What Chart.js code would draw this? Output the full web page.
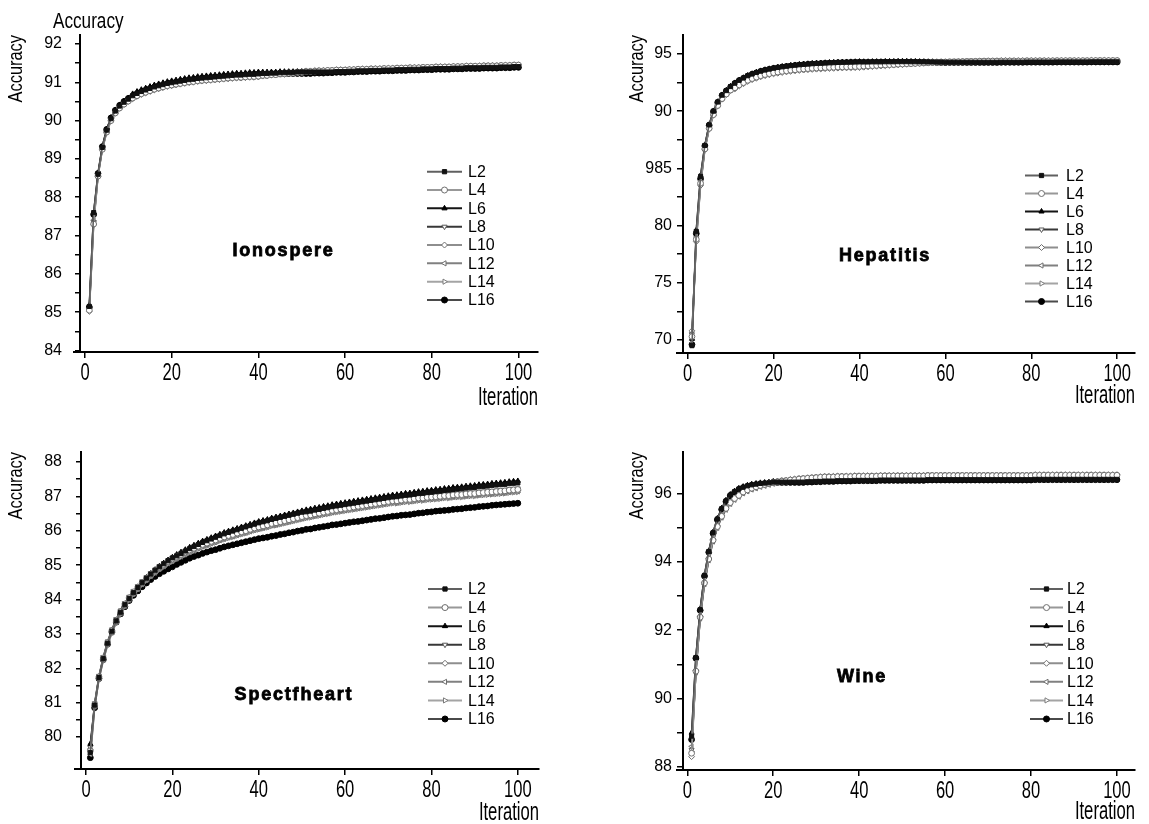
<!DOCTYPE html>
<html><head><meta charset="utf-8">
<script src="https://cdn.jsdelivr.net/npm/chart.js@4.4.1/dist/chart.umd.min.js"></script>
<style>
html,body{margin:0;padding:0;background:#fff;}
body{width:1149px;height:824px;position:relative;overflow:hidden;}
canvas{position:absolute;}
</style></head><body>
<canvas id="c1" width="575" height="412" style="left:0;top:0;width:575px;height:412px"></canvas>
<canvas id="c2" width="574" height="412" style="left:575px;top:0;width:574px;height:412px"></canvas>
<canvas id="c3" width="575" height="412" style="left:0;top:412px;width:575px;height:412px"></canvas>
<canvas id="c4" width="574" height="412" style="left:575px;top:412px;width:574px;height:412px"></canvas>
<script>
const iterations = [1,2,3,4,5,6,7,8,9,10,11,12,13,14,15,16,17,18,19,20,21,22,23,24,25,26,27,28,29,30,31,32,33,34,35,36,37,38,39,40,41,42,43,44,45,46,47,48,49,50,51,52,53,54,55,56,57,58,59,60,61,62,63,64,65,66,67,68,69,70,71,72,73,74,75,76,77,78,79,80,81,82,83,84,85,86,87,88,89,90,91,92,93,94,95,96,97,98,99,100];
const seriesNames = ['L2','L4','L6','L8','L10','L12','L14','L16'];
const panelNames = ['Ionospere','Hepatitis','Spectfheart','Wine'];
const xTicks = [0,20,40,60,80,100];
const xLabels = ['0','20','40','60','80','100'];
const ionYTicks = [84,84.5,85,85.5,86,86.5,87,87.5,88,88.5,89,89.5,90,90.5,91,91.5,92];
const ionYLabels = ['84','','85','','86','','87','','88','','89','','90','','91','','92'];
const hepYTicks = [70,72.5,75,77.5,80,82.5,85,87.5,90,92.5,95];
const hepYLabels = ['70','','75','','80','','985','','90','','95'];
const speYTicks = [80,80.5,81,81.5,82,82.5,83,83.5,84,84.5,85,85.5,86,86.5,87,87.5,88];
const speYLabels = ['80','','81','','82','','83','','84','','85','','86','','87','','88'];
const wineYTicks = [88,89,90,91,92,93,94,95,96];
const wineYLabels = ['88','','90','','92','','94','','96'];

// ---------- Ionospere ----------
const ionL2 = [85.15,87.60,88.60,89.30,89.75,90.05,90.25,90.38,90.48,90.56,
90.65,90.71,90.76,90.80,90.84,90.88,90.91,90.94,90.97,90.99,
91.01,91.03,91.05,91.07,91.08,91.10,91.11,91.12,91.13,91.14,
91.15,91.16,91.17,91.18,91.19,91.19,91.20,91.21,91.21,91.22,
91.23,91.23,91.24,91.24,91.25,91.25,91.26,91.26,91.27,91.27,
91.27,91.27,91.27,91.27,91.27,91.27,91.27,91.28,91.28,91.28,
91.29,91.29,91.30,91.30,91.30,91.31,91.31,91.31,91.32,91.32,
91.32,91.33,91.33,91.33,91.34,91.34,91.34,91.35,91.35,91.35,
91.36,91.36,91.36,91.36,91.37,91.37,91.37,91.38,91.38,91.38,
91.38,91.39,91.39,91.39,91.39,91.40,91.40,91.40,91.41,91.41];
const ionL4 = [85.05,87.30,88.55,89.25,89.70,90.00,90.20,90.33,90.43,90.51,
90.59,90.65,90.70,90.74,90.78,90.82,90.85,90.88,90.91,90.93,
90.95,90.97,90.99,91.01,91.02,91.04,91.05,91.06,91.07,91.08,
91.09,91.10,91.11,91.12,91.13,91.13,91.14,91.15,91.15,91.16,
91.18,91.18,91.20,91.20,91.22,91.22,91.24,91.24,91.26,91.26,
91.28,91.28,91.29,91.30,91.30,91.31,91.31,91.32,91.32,91.32,
91.33,91.33,91.34,91.34,91.34,91.35,91.35,91.35,91.36,91.36,
91.36,91.37,91.37,91.37,91.38,91.38,91.38,91.39,91.39,91.39,
91.40,91.40,91.40,91.40,91.41,91.41,91.41,91.42,91.42,91.42,
91.42,91.43,91.43,91.43,91.43,91.44,91.44,91.44,91.45,91.45];
const ionL6 = [85.18,87.60,88.63,89.33,89.78,90.08,90.28,90.41,90.51,90.59,
90.70,90.76,90.81,90.85,90.89,90.93,90.96,90.99,91.02,91.04,
91.06,91.08,91.10,91.12,91.13,91.15,91.16,91.17,91.18,91.19,
91.20,91.21,91.22,91.23,91.24,91.24,91.25,91.26,91.26,91.27,
91.27,91.27,91.27,91.27,91.28,91.28,91.28,91.28,91.28,91.28,
91.27,91.27,91.28,91.28,91.28,91.29,91.29,91.30,91.30,91.30,
91.31,91.31,91.32,91.32,91.32,91.33,91.33,91.33,91.34,91.34,
91.34,91.35,91.35,91.35,91.36,91.36,91.36,91.37,91.37,91.37,
91.38,91.38,91.38,91.38,91.39,91.39,91.39,91.40,91.40,91.40,
91.40,91.41,91.41,91.41,91.41,91.42,91.42,91.42,91.43,91.43];
const ionL8 = [85.08,87.35,88.57,89.27,89.72,90.02,90.22,90.35,90.45,90.53,
90.60,90.66,90.71,90.75,90.79,90.83,90.86,90.89,90.92,90.94,
90.96,90.98,91.00,91.02,91.03,91.05,91.06,91.07,91.08,91.09,
91.10,91.11,91.12,91.13,91.14,91.14,91.15,91.16,91.16,91.17,
91.18,91.18,91.20,91.20,91.22,91.22,91.24,91.24,91.26,91.26,
91.28,91.28,91.29,91.29,91.29,91.30,91.30,91.31,91.31,91.31,
91.32,91.32,91.33,91.33,91.33,91.34,91.34,91.34,91.35,91.35,
91.35,91.36,91.36,91.36,91.37,91.37,91.37,91.38,91.38,91.38,
91.39,91.39,91.39,91.39,91.40,91.40,91.40,91.41,91.41,91.41,
91.41,91.42,91.42,91.42,91.42,91.43,91.43,91.43,91.44,91.44];
const ionL10 = [85.02,87.28,88.54,89.24,89.69,89.99,90.19,90.32,90.42,90.50,
90.57,90.63,90.68,90.72,90.76,90.80,90.83,90.86,90.89,90.91,
90.93,90.95,90.97,90.99,91.00,91.02,91.03,91.04,91.05,91.06,
91.07,91.08,91.09,91.10,91.11,91.11,91.12,91.13,91.13,91.14,
91.16,91.17,91.19,91.20,91.22,91.23,91.25,91.26,91.28,91.28,
91.30,91.30,91.31,91.31,91.31,91.32,91.32,91.33,91.33,91.33,
91.34,91.34,91.35,91.35,91.35,91.36,91.36,91.36,91.37,91.37,
91.37,91.38,91.38,91.38,91.39,91.39,91.39,91.40,91.40,91.40,
91.41,91.41,91.41,91.41,91.42,91.42,91.42,91.43,91.43,91.43,
91.43,91.44,91.44,91.44,91.44,91.45,91.45,91.45,91.46,91.46];
const ionL12 = [85.07,87.40,88.58,89.28,89.73,90.03,90.23,90.36,90.46,90.54,
90.60,90.66,90.71,90.75,90.79,90.83,90.86,90.89,90.92,90.94,
90.96,90.98,91.00,91.02,91.03,91.05,91.06,91.07,91.08,91.09,
91.10,91.11,91.12,91.13,91.14,91.14,91.15,91.16,91.16,91.17,
91.18,91.19,91.20,91.20,91.21,91.22,91.23,91.23,91.24,91.25,
91.27,91.27,91.28,91.28,91.28,91.29,91.29,91.30,91.30,91.30,
91.31,91.31,91.32,91.32,91.32,91.33,91.33,91.33,91.34,91.34,
91.34,91.35,91.35,91.35,91.36,91.36,91.36,91.37,91.37,91.37,
91.38,91.38,91.38,91.38,91.39,91.39,91.39,91.40,91.40,91.40,
91.40,91.41,91.41,91.41,91.41,91.42,91.42,91.42,91.43,91.43];
const ionL14 = [85.10,87.38,88.56,89.26,89.71,90.01,90.21,90.34,90.44,90.52,
90.58,90.64,90.69,90.73,90.77,90.81,90.84,90.87,90.90,90.92,
90.94,90.96,90.98,91.00,91.01,91.03,91.04,91.05,91.06,91.07,
91.08,91.09,91.10,91.11,91.12,91.12,91.13,91.14,91.14,91.15,
91.17,91.17,91.19,91.19,91.21,91.22,91.24,91.24,91.26,91.27,
91.29,91.29,91.30,91.30,91.30,91.31,91.31,91.32,91.32,91.32,
91.33,91.33,91.34,91.34,91.34,91.35,91.35,91.35,91.36,91.36,
91.36,91.37,91.37,91.37,91.38,91.38,91.38,91.39,91.39,91.39,
91.40,91.40,91.40,91.40,91.41,91.41,91.41,91.42,91.42,91.42,
91.42,91.43,91.43,91.43,91.43,91.44,91.44,91.44,91.45,91.45];
const ionL16 = [85.13,87.55,88.62,89.32,89.77,90.07,90.27,90.40,90.50,90.58,
90.64,90.70,90.75,90.79,90.83,90.87,90.90,90.93,90.96,90.98,
91.00,91.02,91.04,91.06,91.07,91.09,91.10,91.11,91.12,91.13,
91.14,91.15,91.16,91.17,91.18,91.18,91.19,91.20,91.20,91.21,
91.21,91.21,91.22,91.22,91.22,91.22,91.23,91.23,91.23,91.23,
91.23,91.23,91.24,91.24,91.24,91.25,91.25,91.26,91.26,91.26,
91.27,91.27,91.28,91.28,91.28,91.29,91.29,91.29,91.30,91.30,
91.30,91.31,91.31,91.31,91.32,91.32,91.32,91.33,91.33,91.33,
91.34,91.34,91.34,91.34,91.35,91.35,91.35,91.36,91.36,91.36,
91.36,91.37,91.37,91.37,91.37,91.38,91.38,91.38,91.39,91.39];

// ---------- Hepatitis ----------
const hepL2 = [69.50,79.50,84.30,87.00,88.80,90.00,90.80,91.40,91.80,92.15,
92.45,92.70,92.90,93.10,93.25,93.38,93.50,93.60,93.68,93.76,
93.82,93.88,93.93,93.98,94.02,94.06,94.09,94.12,94.15,94.17,
94.19,94.21,94.23,94.24,94.26,94.27,94.28,94.29,94.30,94.31,
94.30,94.30,94.31,94.31,94.31,94.32,94.32,94.32,94.33,94.33,
94.33,94.32,94.32,94.31,94.31,94.30,94.30,94.29,94.29,94.28,
94.28,94.28,94.28,94.28,94.28,94.28,94.28,94.28,94.28,94.28,
94.28,94.28,94.29,94.29,94.29,94.29,94.29,94.29,94.30,94.30,
94.30,94.30,94.30,94.30,94.30,94.31,94.31,94.31,94.31,94.31,
94.31,94.31,94.31,94.32,94.32,94.32,94.32,94.32,94.32,94.32];
const hepL4 = [70.30,78.80,83.70,86.70,88.50,89.70,90.50,91.10,91.50,91.85,
92.05,92.30,92.50,92.70,92.85,92.98,93.10,93.20,93.28,93.36,
93.42,93.48,93.53,93.58,93.62,93.66,93.69,93.72,93.75,93.77,
93.79,93.81,93.83,93.84,93.86,93.87,93.88,93.89,93.90,93.91,
93.94,93.96,93.98,94.00,94.03,94.04,94.07,94.08,94.11,94.12,
94.15,94.16,94.18,94.20,94.22,94.23,94.26,94.27,94.29,94.30,
94.32,94.32,94.33,94.34,94.35,94.35,94.36,94.37,94.38,94.38,
94.38,94.38,94.39,94.39,94.39,94.39,94.39,94.39,94.40,94.40,
94.40,94.40,94.40,94.40,94.40,94.41,94.41,94.41,94.41,94.41,
94.41,94.41,94.41,94.42,94.42,94.42,94.42,94.42,94.42,94.42];
const hepL6 = [70.10,79.60,84.40,87.03,88.83,90.03,90.83,91.43,91.83,92.18,
92.48,92.73,92.93,93.13,93.28,93.41,93.53,93.63,93.71,93.79,
93.85,93.91,93.96,94.01,94.05,94.09,94.12,94.15,94.18,94.20,
94.22,94.24,94.26,94.27,94.29,94.30,94.31,94.32,94.33,94.34,
94.33,94.33,94.34,94.34,94.34,94.35,94.35,94.35,94.36,94.36,
94.36,94.35,94.35,94.34,94.34,94.33,94.33,94.32,94.32,94.31,
94.29,94.29,94.29,94.29,94.29,94.29,94.29,94.29,94.29,94.29,
94.29,94.29,94.30,94.30,94.30,94.30,94.30,94.30,94.31,94.31,
94.31,94.31,94.31,94.31,94.31,94.32,94.32,94.32,94.32,94.32,
94.32,94.32,94.32,94.33,94.33,94.33,94.33,94.33,94.33,94.33];
const hepL8 = [70.50,78.90,83.80,86.75,88.55,89.75,90.55,91.15,91.55,91.90,
92.15,92.40,92.60,92.80,92.95,93.08,93.20,93.30,93.38,93.46,
93.52,93.58,93.63,93.68,93.72,93.76,93.79,93.82,93.85,93.87,
93.89,93.91,93.93,93.94,93.96,93.97,93.98,93.99,94.00,94.01,
94.03,94.05,94.06,94.08,94.10,94.11,94.13,94.14,94.16,94.17,
94.19,94.20,94.21,94.23,94.24,94.25,94.27,94.28,94.29,94.30,
94.31,94.32,94.32,94.34,94.34,94.34,94.35,94.36,94.37,94.37,
94.37,94.37,94.38,94.38,94.38,94.38,94.38,94.38,94.39,94.39,
94.39,94.39,94.39,94.39,94.39,94.40,94.40,94.40,94.40,94.40,
94.40,94.40,94.40,94.41,94.41,94.41,94.41,94.41,94.41,94.41];
const hepL10 = [70.80,78.60,83.50,86.65,88.45,89.65,90.45,91.05,91.45,91.80,
91.95,92.20,92.40,92.60,92.75,92.88,93.00,93.10,93.18,93.26,
93.32,93.38,93.43,93.48,93.52,93.56,93.59,93.62,93.65,93.67,
93.69,93.71,93.73,93.74,93.76,93.77,93.78,93.79,93.80,93.81,
93.84,93.87,93.89,93.92,93.95,93.97,94.00,94.02,94.05,94.07,
94.10,94.12,94.14,94.17,94.19,94.21,94.24,94.26,94.28,94.30,
94.32,94.33,94.33,94.35,94.36,94.37,94.38,94.39,94.40,94.41,
94.41,94.41,94.42,94.42,94.42,94.42,94.42,94.42,94.43,94.43,
94.43,94.43,94.43,94.43,94.43,94.44,94.44,94.44,94.44,94.44,
94.44,94.44,94.44,94.45,94.45,94.45,94.45,94.45,94.45,94.45];
const hepL12 = [70.60,78.70,83.60,86.70,88.50,89.70,90.50,91.10,91.50,91.85,
92.10,92.35,92.55,92.75,92.90,93.03,93.15,93.25,93.33,93.41,
93.47,93.53,93.58,93.63,93.67,93.71,93.74,93.77,93.80,93.82,
93.84,93.86,93.88,93.89,93.91,93.92,93.93,93.94,93.95,93.96,
93.98,94.01,94.02,94.04,94.06,94.08,94.10,94.11,94.13,94.15,
94.17,94.18,94.19,94.22,94.23,94.24,94.26,94.28,94.29,94.30,
94.32,94.32,94.33,94.34,94.35,94.35,94.36,94.37,94.38,94.38,
94.38,94.38,94.39,94.39,94.39,94.39,94.39,94.39,94.40,94.40,
94.40,94.40,94.40,94.40,94.40,94.41,94.41,94.41,94.41,94.41,
94.41,94.41,94.41,94.42,94.42,94.42,94.42,94.42,94.42,94.42];
const hepL14 = [70.00,78.70,83.60,86.65,88.45,89.65,90.45,91.05,91.45,91.80,
92.00,92.25,92.45,92.65,92.80,92.93,93.05,93.15,93.23,93.31,
93.37,93.43,93.48,93.53,93.57,93.61,93.64,93.67,93.70,93.72,
93.74,93.76,93.78,93.79,93.81,93.82,93.83,93.84,93.85,93.86,
93.89,93.92,93.93,93.96,93.99,94.01,94.03,94.05,94.08,94.10,
94.12,94.14,94.16,94.19,94.20,94.22,94.25,94.27,94.28,94.30,
94.32,94.32,94.33,94.34,94.35,94.36,94.36,94.38,94.38,94.39,
94.39,94.39,94.40,94.40,94.40,94.40,94.40,94.40,94.41,94.41,
94.41,94.41,94.41,94.41,94.41,94.42,94.42,94.42,94.42,94.42,
94.42,94.42,94.42,94.43,94.43,94.43,94.43,94.43,94.43,94.43];
const hepL16 = [69.60,79.30,84.10,86.97,88.77,89.97,90.77,91.37,91.77,92.12,
92.42,92.67,92.87,93.07,93.22,93.35,93.47,93.57,93.65,93.73,
93.79,93.85,93.90,93.95,93.99,94.03,94.06,94.09,94.12,94.14,
94.16,94.18,94.20,94.21,94.23,94.24,94.25,94.26,94.27,94.28,
94.27,94.27,94.28,94.28,94.28,94.29,94.29,94.29,94.30,94.30,
94.30,94.29,94.29,94.28,94.28,94.27,94.27,94.26,94.26,94.25,
94.26,94.26,94.26,94.26,94.26,94.26,94.26,94.26,94.26,94.26,
94.26,94.26,94.27,94.27,94.27,94.27,94.27,94.27,94.28,94.28,
94.28,94.28,94.28,94.28,94.28,94.29,94.29,94.29,94.29,94.29,
94.29,94.29,94.29,94.30,94.30,94.30,94.30,94.30,94.30,94.30];

// ---------- Spectfheart ----------
const speL2 = [79.55,80.93,81.73,82.28,82.73,83.08,83.38,83.63,83.85,84.03,
84.20,84.35,84.49,84.62,84.74,84.85,84.95,85.04,85.13,85.21,
85.27,85.34,85.41,85.48,85.54,85.60,85.66,85.71,85.76,85.81,
85.86,85.91,85.95,85.99,86.03,86.07,86.11,86.15,86.19,86.23,
86.26,86.29,86.33,86.36,86.39,86.42,86.45,86.48,86.51,86.54,
86.55,86.57,86.60,86.62,86.65,86.67,86.70,86.72,86.74,86.76,
86.78,86.80,86.82,86.84,86.86,86.88,86.90,86.92,86.94,86.96,
86.98,86.99,87.01,87.03,87.04,87.06,87.08,87.09,87.11,87.12,
87.14,87.15,87.17,87.18,87.20,87.21,87.22,87.24,87.25,87.26,
87.28,87.29,87.30,87.32,87.33,87.34,87.35,87.37,87.38,87.39];
const speL4 = [79.60,80.95,81.75,82.30,82.75,83.10,83.40,83.65,83.87,84.05,
84.22,84.36,84.50,84.62,84.74,84.84,84.94,85.02,85.11,85.18,
85.25,85.31,85.38,85.44,85.49,85.55,85.60,85.64,85.69,85.73,
85.78,85.82,85.86,85.89,85.93,85.97,86.00,86.04,86.08,86.11,
86.14,86.17,86.21,86.23,86.26,86.29,86.32,86.35,86.38,86.41,
86.44,86.46,86.49,86.51,86.54,86.56,86.59,86.61,86.63,86.65,
86.67,86.69,86.71,86.73,86.75,86.77,86.79,86.81,86.83,86.85,
86.87,86.87,86.89,86.91,86.91,86.93,86.95,86.95,86.97,86.98,
86.99,87.00,87.02,87.02,87.04,87.05,87.05,87.07,87.08,87.08,
87.10,87.11,87.12,87.13,87.14,87.15,87.16,87.18,87.19,87.20];
const speL6 = [79.80,80.95,81.75,82.30,82.75,83.10,83.40,83.65,83.87,84.05,
84.22,84.37,84.51,84.64,84.76,84.87,84.97,85.06,85.15,85.23,
85.31,85.38,85.45,85.52,85.58,85.64,85.70,85.75,85.80,85.85,
85.90,85.95,85.99,86.03,86.07,86.11,86.15,86.19,86.23,86.27,
86.30,86.33,86.37,86.40,86.43,86.46,86.49,86.52,86.55,86.58,
86.61,86.63,86.66,86.68,86.71,86.73,86.76,86.78,86.80,86.82,
86.84,86.86,86.88,86.90,86.92,86.94,86.96,86.98,87.00,87.02,
87.04,87.05,87.07,87.09,87.10,87.12,87.14,87.15,87.17,87.18,
87.20,87.21,87.23,87.24,87.26,87.27,87.28,87.30,87.31,87.32,
87.34,87.35,87.36,87.38,87.39,87.40,87.41,87.43,87.44,87.45];
const speL8 = [79.70,80.98,81.78,82.33,82.78,83.13,83.43,83.68,83.90,84.08,
84.25,84.39,84.53,84.65,84.77,84.87,84.97,85.05,85.14,85.21,
85.28,85.34,85.41,85.47,85.52,85.58,85.63,85.67,85.72,85.76,
85.81,85.85,85.89,85.92,85.96,86.00,86.03,86.07,86.11,86.14,
86.17,86.20,86.24,86.26,86.29,86.32,86.35,86.38,86.41,86.44,
86.47,86.49,86.52,86.54,86.57,86.59,86.62,86.64,86.66,86.68,
86.70,86.72,86.74,86.76,86.78,86.80,86.82,86.84,86.86,86.88,
86.90,86.90,86.92,86.94,86.94,86.96,86.98,86.98,87.00,87.01,
87.02,87.03,87.05,87.05,87.07,87.08,87.08,87.10,87.11,87.11,
87.13,87.14,87.15,87.16,87.17,87.18,87.19,87.21,87.22,87.23];
const speL10 = [79.65,80.92,81.72,82.27,82.72,83.07,83.37,83.62,83.84,84.02,
84.19,84.33,84.47,84.59,84.71,84.81,84.91,84.99,85.08,85.15,
85.22,85.28,85.35,85.41,85.46,85.52,85.57,85.61,85.66,85.70,
85.75,85.79,85.83,85.86,85.90,85.94,85.97,86.01,86.05,86.08,
86.11,86.14,86.18,86.20,86.23,86.26,86.29,86.32,86.35,86.38,
86.41,86.43,86.46,86.48,86.51,86.53,86.56,86.58,86.60,86.62,
86.64,86.66,86.68,86.70,86.72,86.74,86.76,86.78,86.80,86.82,
86.84,86.84,86.86,86.88,86.88,86.90,86.92,86.92,86.94,86.95,
86.96,86.97,86.99,86.99,87.01,87.02,87.02,87.04,87.05,87.05,
87.07,87.08,87.09,87.10,87.11,87.12,87.13,87.15,87.16,87.17];
const speL12 = [79.50,80.89,81.69,82.24,82.69,83.04,83.34,83.59,83.81,83.99,
84.16,84.30,84.44,84.56,84.68,84.78,84.88,84.96,85.05,85.12,
85.19,85.25,85.32,85.38,85.43,85.49,85.54,85.58,85.63,85.67,
85.72,85.76,85.80,85.83,85.87,85.91,85.94,85.98,86.02,86.05,
86.08,86.11,86.15,86.17,86.20,86.23,86.26,86.29,86.32,86.35,
86.38,86.40,86.43,86.45,86.48,86.50,86.53,86.55,86.57,86.59,
86.61,86.63,86.65,86.67,86.69,86.71,86.73,86.75,86.77,86.79,
86.81,86.81,86.83,86.85,86.85,86.87,86.89,86.89,86.91,86.92,
86.93,86.94,86.96,86.96,86.98,86.99,86.99,87.01,87.02,87.02,
87.04,87.05,87.06,87.07,87.08,87.09,87.10,87.12,87.13,87.14];
const speL14 = [79.75,80.87,81.67,82.22,82.67,83.02,83.32,83.57,83.79,83.97,
84.14,84.28,84.42,84.54,84.66,84.76,84.86,84.94,85.03,85.10,
85.17,85.23,85.30,85.36,85.41,85.47,85.52,85.56,85.61,85.65,
85.70,85.74,85.78,85.81,85.85,85.89,85.92,85.96,86.00,86.03,
86.06,86.09,86.13,86.15,86.18,86.21,86.24,86.27,86.30,86.33,
86.36,86.38,86.41,86.43,86.46,86.48,86.51,86.53,86.55,86.57,
86.59,86.61,86.63,86.65,86.67,86.69,86.71,86.73,86.75,86.77,
86.79,86.79,86.81,86.83,86.83,86.85,86.87,86.87,86.89,86.90,
86.91,86.92,86.94,86.94,86.96,86.97,86.97,86.99,87.00,87.00,
87.02,87.03,87.04,87.05,87.06,87.07,87.08,87.10,87.11,87.12];
const speL16 = [79.40,80.85,81.70,82.25,82.70,83.05,83.34,83.58,83.79,83.97,
84.12,84.25,84.37,84.48,84.58,84.67,84.75,84.82,84.89,84.95,
85.02,85.08,85.14,85.20,85.25,85.29,85.34,85.38,85.42,85.45,
85.49,85.53,85.56,85.59,85.62,85.65,85.68,85.71,85.74,85.77,
85.79,85.81,85.84,85.86,85.89,85.91,85.94,85.96,85.99,86.01,
86.04,86.05,86.08,86.10,86.12,86.14,86.17,86.18,86.20,86.22,
86.24,86.26,86.27,86.29,86.31,86.33,86.35,86.36,86.38,86.40,
86.42,86.43,86.45,86.46,86.47,86.49,86.51,86.52,86.54,86.55,
86.57,86.58,86.59,86.60,86.62,86.63,86.64,86.66,86.67,86.68,
86.70,86.71,86.72,86.74,86.75,86.76,86.77,86.78,86.79,86.80];

// ---------- Wine ----------
const wineL2 = [88.90,91.20,92.60,93.60,94.30,94.85,95.25,95.55,95.78,95.95,
96.05,96.13,96.18,96.22,96.25,96.27,96.29,96.30,96.31,96.33,
96.33,96.33,96.33,96.33,96.33,96.33,96.33,96.34,96.34,96.35,
96.35,96.36,96.36,96.36,96.37,96.37,96.37,96.37,96.38,96.38,
96.38,96.38,96.38,96.38,96.39,96.39,96.39,96.39,96.39,96.39,
96.39,96.39,96.39,96.39,96.39,96.40,96.40,96.40,96.40,96.40,
96.40,96.40,96.40,96.40,96.40,96.40,96.40,96.40,96.40,96.40,
96.40,96.40,96.40,96.40,96.40,96.40,96.40,96.40,96.40,96.40,
96.41,96.41,96.41,96.41,96.41,96.41,96.41,96.41,96.41,96.41,
96.41,96.41,96.41,96.41,96.41,96.41,96.41,96.41,96.41,96.41];
const wineL4 = [88.40,90.80,92.38,93.38,94.08,94.63,95.03,95.33,95.56,95.73,
95.85,95.94,96.04,96.10,96.15,96.19,96.23,96.26,96.29,96.32,
96.34,96.36,96.37,96.39,96.40,96.42,96.43,96.44,96.45,96.46,
96.47,96.48,96.48,96.48,96.49,96.49,96.49,96.49,96.50,96.50,
96.50,96.50,96.50,96.50,96.51,96.51,96.51,96.51,96.51,96.51,
96.51,96.51,96.51,96.51,96.51,96.52,96.52,96.52,96.52,96.52,
96.52,96.52,96.52,96.52,96.52,96.52,96.52,96.52,96.52,96.52,
96.52,96.52,96.52,96.52,96.52,96.52,96.52,96.52,96.52,96.52,
96.53,96.53,96.53,96.53,96.53,96.53,96.53,96.53,96.53,96.53,
96.53,96.53,96.53,96.53,96.53,96.53,96.53,96.53,96.53,96.53];
const wineL6 = [89.00,91.22,92.62,93.62,94.32,94.87,95.27,95.57,95.80,95.97,
96.07,96.15,96.20,96.24,96.27,96.29,96.31,96.32,96.33,96.35,
96.34,96.34,96.34,96.34,96.34,96.34,96.34,96.35,96.35,96.36,
96.36,96.37,96.37,96.37,96.38,96.38,96.38,96.38,96.39,96.39,
96.39,96.39,96.39,96.39,96.40,96.40,96.40,96.40,96.40,96.40,
96.40,96.40,96.40,96.40,96.40,96.41,96.41,96.41,96.41,96.41,
96.41,96.41,96.41,96.41,96.41,96.41,96.41,96.41,96.41,96.41,
96.41,96.41,96.41,96.41,96.41,96.41,96.41,96.41,96.41,96.41,
96.42,96.42,96.42,96.42,96.42,96.42,96.42,96.42,96.42,96.42,
96.42,96.42,96.42,96.42,96.42,96.42,96.42,96.42,96.42,96.42];
const wineL8 = [88.50,90.78,92.36,93.36,94.06,94.61,95.01,95.31,95.54,95.71,
95.83,95.92,96.02,96.08,96.13,96.17,96.21,96.24,96.27,96.30,
96.32,96.34,96.35,96.37,96.38,96.40,96.41,96.42,96.43,96.44,
96.45,96.46,96.46,96.46,96.47,96.47,96.47,96.47,96.48,96.48,
96.48,96.48,96.48,96.48,96.49,96.49,96.49,96.49,96.49,96.49,
96.49,96.49,96.49,96.49,96.49,96.50,96.50,96.50,96.50,96.50,
96.50,96.50,96.50,96.50,96.50,96.50,96.50,96.50,96.50,96.50,
96.50,96.50,96.50,96.50,96.50,96.50,96.50,96.50,96.50,96.50,
96.51,96.51,96.51,96.51,96.51,96.51,96.51,96.51,96.51,96.51,
96.51,96.51,96.51,96.51,96.51,96.51,96.51,96.51,96.51,96.51];
const wineL10 = [88.30,90.82,92.40,93.40,94.10,94.65,95.05,95.35,95.58,95.75,
95.87,95.96,96.06,96.12,96.17,96.21,96.25,96.28,96.31,96.34,
96.36,96.38,96.39,96.41,96.42,96.44,96.45,96.46,96.47,96.48,
96.49,96.50,96.50,96.50,96.51,96.51,96.51,96.51,96.52,96.52,
96.52,96.52,96.52,96.52,96.53,96.53,96.53,96.53,96.53,96.53,
96.53,96.53,96.53,96.53,96.53,96.54,96.54,96.54,96.54,96.54,
96.54,96.54,96.54,96.54,96.54,96.54,96.54,96.54,96.54,96.54,
96.54,96.54,96.54,96.54,96.54,96.54,96.54,96.54,96.54,96.54,
96.55,96.55,96.55,96.55,96.55,96.55,96.55,96.55,96.55,96.55,
96.55,96.55,96.55,96.55,96.55,96.55,96.55,96.55,96.55,96.55];
const wineL12 = [88.60,90.76,92.34,93.34,94.04,94.59,94.99,95.29,95.52,95.69,
95.81,95.90,96.00,96.06,96.11,96.15,96.19,96.22,96.25,96.28,
96.30,96.32,96.33,96.35,96.36,96.38,96.39,96.40,96.41,96.42,
96.43,96.44,96.44,96.44,96.45,96.45,96.45,96.45,96.46,96.46,
96.46,96.46,96.46,96.46,96.47,96.47,96.47,96.47,96.47,96.47,
96.47,96.47,96.47,96.47,96.47,96.48,96.48,96.48,96.48,96.48,
96.48,96.48,96.48,96.48,96.48,96.48,96.48,96.48,96.48,96.48,
96.48,96.48,96.48,96.48,96.48,96.48,96.48,96.48,96.48,96.48,
96.49,96.49,96.49,96.49,96.49,96.49,96.49,96.49,96.49,96.49,
96.49,96.49,96.49,96.49,96.49,96.49,96.49,96.49,96.49,96.49];
const wineL14 = [88.45,90.81,92.39,93.39,94.09,94.64,95.04,95.34,95.57,95.74,
95.86,95.95,96.05,96.11,96.16,96.20,96.24,96.27,96.30,96.33,
96.35,96.37,96.38,96.40,96.41,96.43,96.44,96.45,96.46,96.47,
96.48,96.49,96.49,96.49,96.50,96.50,96.50,96.50,96.51,96.51,
96.51,96.51,96.51,96.51,96.52,96.52,96.52,96.52,96.52,96.52,
96.52,96.52,96.52,96.52,96.52,96.53,96.53,96.53,96.53,96.53,
96.53,96.53,96.53,96.53,96.53,96.53,96.53,96.53,96.53,96.53,
96.53,96.53,96.53,96.53,96.53,96.53,96.53,96.53,96.53,96.53,
96.54,96.54,96.54,96.54,96.54,96.54,96.54,96.54,96.54,96.54,
96.54,96.54,96.54,96.54,96.54,96.54,96.54,96.54,96.54,96.54];
const wineL16 = [88.80,91.18,92.58,93.58,94.28,94.83,95.23,95.53,95.76,95.93,
96.03,96.11,96.16,96.20,96.23,96.25,96.27,96.28,96.29,96.31,
96.32,96.32,96.32,96.32,96.32,96.32,96.32,96.33,96.33,96.34,
96.34,96.35,96.35,96.35,96.36,96.36,96.36,96.36,96.37,96.37,
96.37,96.37,96.37,96.37,96.38,96.38,96.38,96.38,96.38,96.38,
96.38,96.38,96.38,96.38,96.38,96.39,96.39,96.39,96.39,96.39,
96.39,96.39,96.39,96.39,96.39,96.39,96.39,96.39,96.39,96.39,
96.39,96.39,96.39,96.39,96.39,96.39,96.39,96.39,96.39,96.39,
96.40,96.40,96.40,96.40,96.40,96.40,96.40,96.40,96.40,96.40,
96.40,96.40,96.40,96.40,96.40,96.40,96.40,96.40,96.40,96.40];

// ---------- styling ----------
const SANS = "'Liberation Sans', Arial, Helvetica, sans-serif";
Chart.defaults.color = '#000';
Chart.defaults.font.family = SANS;

const styles = [
  {line:'#606060', fill:'#111111', border:'#111111', shape:'rect',     rot:0},
  {line:'#989898', fill:'#ffffff', border:'#6e6e6e', shape:'circle',   rot:0},
  {line:'#151515', fill:'#000000', border:'#000000', shape:'triangle', rot:0},
  {line:'#383838', fill:'#ffffff', border:'#5a5a5a', shape:'triangle', rot:180},
  {line:'#8e8e8e', fill:'#ffffff', border:'#6e6e6e', shape:'rectRot',  rot:0},
  {line:'#808080', fill:'#ffffff', border:'#6e6e6e', shape:'triangle', rot:270},
  {line:'#a4a4a4', fill:'#ffffff', border:'#7c7c7c', shape:'triangle', rot:90},
  {line:'#4a4a4a', fill:'#000000', border:'#000000', shape:'circle',   rot:0}
];

// draw text horizontally condensed (emulates the narrow face of the original)
function withCondensed(ctx, fx, fn) {
  const orig = ctx.fillText;
  ctx.fillText = function (t, x, y) {
    this.save(); this.translate(x, y); this.scale(fx, 1); orig.call(this, t, 0, 0); this.restore();
  };
  try { fn(); } finally { ctx.fillText = orig; }
}

const condense = {
  id: 'condense',
  beforeDraw(chart, args, o) {
    const ctx = chart.ctx;
    ['x', 'y'].forEach(k => {
      const s = chart.scales[k];
      if (!s || s._condPatched) return;
      s._condPatched = true;
      const f = o[k] || {};
      const wrap = (name, fx) => {
        const orig = s[name].bind(s);
        s[name] = function (...a) { withCondensed(ctx, fx, () => orig(...a)); };
      };
      if (f.labels && f.labels !== 1) wrap('drawLabels', f.labels);
      if (f.title && f.title !== 1) wrap('drawTitle', f.title);
    });
  }
};

function drawMarker(ctx, shape, rot, x, y, r) {
  if (Chart.helpers && Chart.helpers.drawPoint) {
    Chart.helpers.drawPoint(ctx, {pointStyle: shape, rotation: rot, radius: r, borderWidth: 1}, x, y);
    return;
  }
  ctx.save(); ctx.translate(x, y); ctx.rotate(rot * Math.PI / 180); ctx.beginPath();
  if (shape === 'circle') ctx.arc(0, 0, r, 0, Math.PI * 2);
  else if (shape === 'rect') ctx.rect(-r * 0.7, -r * 0.7, r * 1.4, r * 1.4);
  else if (shape === 'rectRot') { ctx.moveTo(0, -r); ctx.lineTo(r, 0); ctx.lineTo(0, r); ctx.lineTo(-r, 0); ctx.closePath(); }
  else { ctx.moveTo(0, -r); ctx.lineTo(r * 0.87, r * 0.5); ctx.lineTo(-r * 0.87, r * 0.5); ctx.closePath(); }
  ctx.fill(); ctx.stroke(); ctx.restore();
}

const deco = {
  id: 'deco',
  afterDraw(chart, args, o) {
    const ctx = chart.ctx, ca = chart.chartArea;
    ctx.save();
    ctx.strokeStyle = '#000'; ctx.lineWidth = 2;
    ctx.beginPath(); ctx.moveTo(ca.left - 7, ca.bottom); ctx.lineTo(ca.left, ca.bottom); ctx.stroke();
    if (o.topLabel) {
      ctx.font = '22px ' + SANS; ctx.fillStyle = '#000';
      ctx.textAlign = 'left'; ctx.textBaseline = 'alphabetic';
      withCondensed(ctx, 0.78, () => ctx.fillText(o.topLabel, o.topX, o.topY));
    }
    ctx.font = 'bold 18px ' + SANS;
    try { ctx.letterSpacing = '1.8px'; } catch (e) {}
    ctx.textAlign = 'center'; ctx.textBaseline = 'middle'; ctx.fillStyle = '#000';
    ctx.strokeStyle = '#000'; ctx.lineWidth = 0.8;
    ctx.fillText(o.name, o.nameX, o.nameY);
    ctx.strokeText(o.name, o.nameX, o.nameY);
    try { ctx.letterSpacing = '0px'; } catch (e) {}
    chart.data.datasets.forEach((ds, i) => {
      const y = o.legY + i * o.legDy;
      ctx.strokeStyle = ds.borderColor; ctx.lineWidth = 2;
      ctx.beginPath(); ctx.moveTo(o.legX, y); ctx.lineTo(o.legX + o.legW, y); ctx.stroke();
      ctx.fillStyle = ds.pointBackgroundColor; ctx.strokeStyle = ds.pointBorderColor; ctx.lineWidth = 1;
      drawMarker(ctx, ds.pointStyle, ds.pointRotation, o.legX + o.legW / 2, y, 3);
      ctx.fillStyle = '#000'; ctx.font = '16px ' + SANS;
      ctx.textAlign = 'left'; ctx.textBaseline = 'middle';
      ctx.fillText(ds.label, o.textX, y + 1);
    });
    ctx.restore();
  }
};

const panels = [
  {id:'c1', series:[ionL2,ionL4,ionL6,ionL8,ionL10,ionL12,ionL14,ionL16],
   yMin:83.96, yMax:92.235, yTicks:ionYTicks, yLabels:ionYLabels, xMin:-1.15, xMax:104.5,
   pad:{left:0, top:35, right:37, bottom:0}, yw:80, xh:60, ytl:5, ytp:13, ytitlePad:6, xtitlePad:3.6,
   deco:{name:panelNames[0], nameX:283.5, nameY:251, legX:427, legW:35, textX:468, legY:171.7, legDy:18.33,
         topLabel:'Accuracy', topX:53, topY:28}},
  {id:'c2', series:[hepL2,hepL4,hepL6,hepL8,hepL10,hepL12,hepL14,hepL16],
   yMin:68.86, yMax:96.66, yTicks:hepYTicks, yLabels:hepYLabels, xMin:-1.09, xMax:104.14,
   pad:{left:46, top:35, right:14, bottom:0}, yw:62, xh:59, ytl:6, ytp:5, ytitlePad:6, xtitlePad:5.6,
   deco:{name:panelNames[1], nameX:310, nameY:256, legX:450, legW:33, textX:491, legY:175.5, legDy:18.0}},
  {id:'c3', series:[speL2,speL4,speL6,speL8,speL10,speL12,speL14,speL16],
   yMin:79.07, yMax:88.29, yTicks:speYTicks, yLabels:speYLabels, xMin:-1.16, xMax:104.9,
   pad:{left:0, top:40, right:36, bottom:0}, yw:81, xh:55, ytl:5, ytp:14, ytitlePad:6, xtitlePad:0.6,
   deco:{name:panelNames[2], nameX:294, nameY:283, legX:428, legW:34, textX:468, legY:177, legDy:18.57}},
  {id:'c4', series:[wineL2,wineL4,wineL6,wineL8,wineL10,wineL12,wineL14,wineL16],
   yMin:87.91, yMax:97.21, yTicks:wineYTicks, yLabels:wineYLabels, xMin:-1.0, xMax:104.2,
   pad:{left:46, top:40, right:14, bottom:0}, yw:62, xh:54, ytl:6, ytp:5, ytitlePad:6, xtitlePad:1.6,
   deco:{name:panelNames[3], nameX:287, nameY:265, legX:455, legW:33, textX:492, legY:177, legDy:18.57}}
];

panels.forEach(p => {
  const datasets = p.series.map((vals, i) => {
    const st = styles[i];
    return {
      label: seriesNames[i],
      data: vals.map((v, k) => ({x: iterations[k], y: v})),
      borderColor: st.line, borderWidth: 1.6, fill: false,
      pointStyle: st.shape, pointRotation: st.rot, pointRadius: 2.9,
      pointBackgroundColor: st.fill, pointBorderColor: st.border, pointBorderWidth: 1
    };
  });
  new Chart(document.getElementById(p.id), {
    type: 'line',
    data: {datasets},
    plugins: [condense, deco],
    options: {
      responsive: false, animation: false, devicePixelRatio: 1,
      layout: {padding: p.pad},
      plugins: {legend: {display: false}, tooltip: {enabled: false}, deco: p.deco,
                condense: {x: {labels: 0.72, title: 0.64}, y: {labels: 1, title: 0.82}}},
      scales: {
        x: {
          type: 'linear', min: p.xMin, max: p.xMax,
          afterBuildTicks: s => { s.ticks = xTicks.map(v => ({value: v})); },
          afterFit: s => { s.height = p.xh; s.paddingLeft = 0; s.paddingRight = 0; },
          ticks: {autoSkip: false, maxRotation: 0, minRotation: 0, padding: 2, color: '#000',
                  font: {family: SANS, size: 23}, callback: (v, i) => xLabels[i]},
          grid: {display: true, drawOnChartArea: false, drawTicks: true, tickLength: 6, color: '#000', lineWidth: 1.5},
          border: {display: true, color: '#000', width: 2},
          title: {display: true, text: 'Iteration', align: 'end', color: '#000',
                  font: {family: SANS, size: 26, lineHeight: 0.8}, padding: {top: 0, bottom: p.xtitlePad}}
        },
        y: {
          type: 'linear', min: p.yMin, max: p.yMax,
          afterBuildTicks: s => { s.ticks = p.yTicks.map(v => ({value: v})); },
          afterFit: s => { s.width = p.yw; s.paddingTop = 0; s.paddingBottom = 0; },
          ticks: {autoSkip: false, padding: p.ytp, color: '#000',
                  font: {family: SANS, size: 16}, callback: (v, i) => p.yLabels[i]},
          grid: {display: true, drawOnChartArea: false, drawTicks: true, tickLength: p.ytl, color: '#000', lineWidth: 1.5},
          border: {display: true, color: '#000', width: 2},
          title: {display: true, text: 'Accuracy', align: 'end', color: '#000',
                  font: {family: SANS, size: 20, lineHeight: 1}, padding: {top: p.ytitlePad, bottom: 0}}
        }
      }
    }
  });
});
</script>
</body></html>
